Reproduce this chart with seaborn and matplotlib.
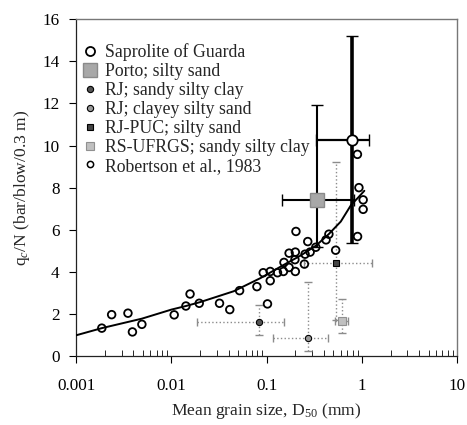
import numpy as np
import pandas as pd
import seaborn as sns
import matplotlib.pyplot as plt
from matplotlib.lines import Line2D

# Robertson et al. (1983) points
rob_x = [0.00186, 0.00236, 0.0035, 0.0039, 0.0049, 0.0107, 0.0142, 0.0157, 0.0196,
         0.032, 0.041, 0.052, 0.079, 0.092, 0.102, 0.109, 0.109, 0.13, 0.15, 0.152,
         0.172, 0.172, 0.198, 0.200, 0.200, 0.203, 0.249, 0.253, 0.270, 0.286, 0.328,
         0.42, 0.45, 0.53, 0.90, 0.93, 1.03, 1.03, 0.897]
rob_y = [1.33, 1.97, 2.04, 1.15, 1.51, 1.96, 2.38, 2.95, 2.51,
         2.51, 2.21, 3.11, 3.30, 3.96, 2.48, 3.58, 4.02, 3.96, 4.02, 4.45,
         4.21, 4.89, 4.58, 4.94, 4.02, 5.92, 4.37, 4.84, 5.44, 4.94, 5.17,
         5.52, 5.79, 5.03, 5.68, 8.00, 7.42, 6.97, 9.58]

# fitted curve
curve_x = [0.001, 0.00186, 0.0049, 0.01, 0.0142, 0.0202, 0.045, 0.0865, 0.152,
           0.228, 0.33, 0.45, 0.6, 0.77, 0.9, 1.06]
curve_y = [0.99, 1.33, 1.78, 2.21, 2.38, 2.57, 3.08, 3.71, 4.34,
           4.78, 5.25, 5.8, 6.39, 7.18, 7.5, 7.85]

# site data: mean value and ranges
sites = ["Saprolite of Guarda", "Porto; silty sand", "RJ; sandy silty clay",
         "RJ; clayey silty sand", "RJ-PUC; silty sand", "RS-UFRGS; sandy silty clay"]
site_x = [0.78, 0.34, 0.084, 0.273, 0.54, 0.62]
site_y = [10.27, 7.40, 1.61, 0.87, 4.40, 1.66]
site_xlo = [0.33, 0.146, 0.0187, 0.117, 0.247, 0.52]
site_xhi = [1.19, 0.83, 0.152, 0.445, 1.29, 0.72]
site_ylo = [5.35, 5.20, 1.00, 0.25, 1.72, 1.08]
site_yhi = [15.2, 11.93, 2.42, 3.52, 9.20, 2.72]

sns.set_style("ticks")
plt.rcParams["font.family"] = ["Liberation Serif", "DejaVu Serif"]
plt.rcParams["mathtext.fontset"] = "custom"
plt.rcParams["mathtext.rm"] = "Liberation Serif"
plt.rcParams["mathtext.it"] = "Liberation Serif:italic"

fig = plt.figure(figsize=(4.67, 4.25), dpi=100)
ax = fig.add_axes([0.163, 0.162, 0.816, 0.793])

# marker / bar styles per site
styles = [
    dict(marker="o", ms=7.5, mfc="white", mec="black", mew=1.3, ecolor="black", elw=2.6, ls="-", cap=4),
    dict(marker="s", ms=9.5, mfc="#a8a8a8", mec="#8a8a8a", mew=1.0, ecolor="black", elw=1.5, ls="-", cap=4),
    dict(marker="o", ms=4.5, mfc="#555555", mec="black", mew=0.8, ecolor="#8c8c8c", elw=1.0, ls=":", cap=3),
    dict(marker="o", ms=4.5, mfc="#9a9a9a", mec="black", mew=0.8, ecolor="#8c8c8c", elw=1.0, ls=":", cap=3),
    dict(marker="s", ms=4.5, mfc="#444444", mec="black", mew=0.8, ecolor="#8c8c8c", elw=1.0, ls=":", cap=3),
    dict(marker="s", ms=6, mfc="#c0c0c0", mec="#909090", mew=0.8, ecolor="#8c8c8c", elw=1.0, ls=":", cap=3),
]

for i in range(len(sites)):
    st = styles[i]
    xerr = [[site_x[i] - site_xlo[i]], [site_xhi[i] - site_x[i]]]
    yerr = [[site_y[i] - site_ylo[i]], [site_yhi[i] - site_y[i]]]
    c = ax.errorbar([site_x[i]], [site_y[i]], xerr=xerr, yerr=yerr, fmt="none",
                    ecolor=st["ecolor"], elinewidth=st["elw"], capsize=st["cap"],
                    capthick=1.0, zorder=2)
    for ln in c[2]:
        ln.set_linestyle(st["ls"])
    # horizontal bar of Guarda is thinner than its vertical one
    if i == 0:
        c[2][0].set_linewidth(1.6)
    ax.plot([site_x[i]], [site_y[i]], linestyle="none", marker=st["marker"],
            ms=st["ms"], mfc=st["mfc"], mec=st["mec"], mew=st["mew"], zorder=4)

rob = pd.DataFrame({"d50": rob_x, "qcn": rob_y})
sns.scatterplot(data=rob, x="d50", y="qcn", ax=ax, marker="o", s=30,
                facecolor="none", edgecolor="black", linewidth=1.3, zorder=3)

fit = pd.DataFrame({"d50": curve_x, "qcn": curve_y})
sns.lineplot(data=fit, x="d50", y="qcn", ax=ax, color="black", lw=1.4, zorder=3)

ax.set_xscale("log")
ax.set_xlim(0.001, 10)
ax.set_ylim(0, 16)
ax.set_yticks(np.arange(0, 17, 2))
ax.set_xticks([0.001, 0.01, 0.1, 1, 10])
ax.set_xticklabels(["0.001", "0.01", "0.1", "1", "10"])
ax.tick_params(axis="both", which="major", direction="out", length=5, width=0.8,
               labelsize=12.3, colors="black")
ax.tick_params(axis="x", which="major", pad=11)
ax.tick_params(axis="x", which="minor", direction="in", length=4, width=0.7)
ax.tick_params(axis="y", which="major", pad=7)

for side in ["left", "bottom"]:
    ax.spines[side].set_color("#222222")
    ax.spines[side].set_linewidth(0.9)
for side in ["top", "right"]:
    ax.spines[side].set_visible(True)
    ax.spines[side].set_color("#777777")
    ax.spines[side].set_linewidth(1.0)

ax.set_xlabel("Mean grain size, D$_{50}$ (mm)", fontsize=12.6, labelpad=5)
ax.set_ylabel("q$_c$/N (bar/blow/0.3 m)", fontsize=12.6, labelpad=7)

handles = []
for i in range(len(sites)):
    st = styles[i]
    ms = st["ms"]
    if i == 0:
        ms = 6.5
    if i == 1:
        ms = 10
    handles.append(Line2D([], [], linestyle="none", marker=st["marker"], ms=ms,
                          mfc=st["mfc"], mec=st["mec"], mew=st["mew"]))
handles.append(Line2D([], [], linestyle="none", marker="o", ms=4.5, mfc="white",
                      mec="black", mew=1.1))
labels = sites + ["Robertson et al., 1983"]
ax.legend(handles, labels, loc="upper left", bbox_to_anchor=(0.0, 0.95),
          frameon=False, fontsize=12.8, handlelength=0.8, handletextpad=0.45,
          labelspacing=0.11, borderaxespad=0, borderpad=0.4)

fig.savefig("out.png", dpi=100)
